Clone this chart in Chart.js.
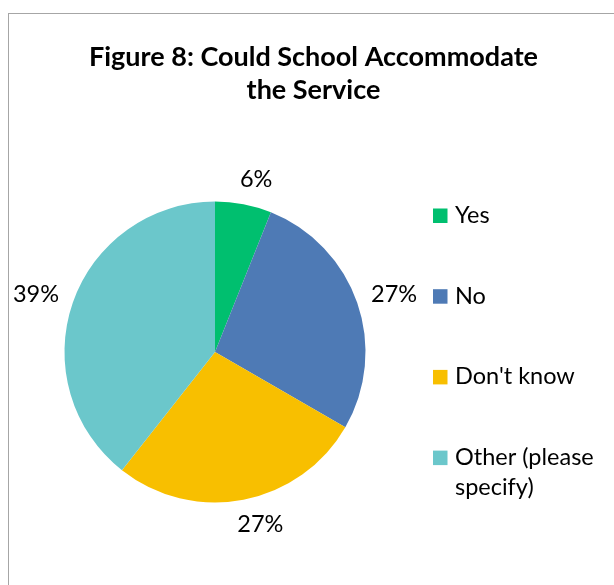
<!DOCTYPE html>
<html>
<head>
<meta charset="utf-8">
<script src="https://cdn.jsdelivr.net/npm/chart.js@4"></script>
<style>
    html, body { margin: 0; padding: 0; background: #fff; overflow: hidden; }
    #frame {
        position: absolute; left: 8px; top: 13px;
        width: 700px; height: 700px;
        border: 1px solid #a6a6a6;
    }
    #wrap { position: absolute; left: 0; top: 0; width: 614px; height: 585px; }
</style>
</head>
<body>
<div id="frame"></div>
<div id="wrap"><canvas id="pieChart"></canvas></div>
<script>
const titleLines = ['Figure 8: Could School Accommodate', 'the Service'];
const categories = ['Yes', 'No', "Don't know", 'Other (please specify)'];
const responses = [2, 9, 9, 13];
const sliceColors = ['#00BF6F', '#4E7AB5', '#F8BF00', '#6BC7CB'];

const FONT = 'Lato, "Open Sans", sans-serif';
const LABEL_SIZE = 23.5;
const TITLE_SIZE = 27;

function percentOf(i) {
    const total = responses.reduce((a, b) => a + b, 0);
    return Math.round(responses[i] / total * 100) + '%';
}

// centred two-line heading above the whole frame (not just the pie area)
const heading = {
    id: 'heading',
    afterDraw(chart) {
        const ctx = chart.ctx;
        ctx.save();
        ctx.font = 'bold ' + TITLE_SIZE + 'px ' + FONT;
        ctx.fillStyle = '#000';
        ctx.textAlign = 'center';
        ctx.textBaseline = 'alphabetic';
        titleLines.forEach((ln, k) => ctx.fillText(ln, 313.5, 66 + k * 32.6));
        ctx.restore();
    }
};

// percentage labels just outside each slice
const outsideLabels = {
    id: 'outsideLabels',
    afterDatasetsDraw(chart) {
        const ctx = chart.ctx;
        const arcs = chart.getDatasetMeta(0).data;
        ctx.save();
        ctx.font = LABEL_SIZE + 'px ' + FONT;
        ctx.fillStyle = '#000';
        ctx.textAlign = 'center';
        ctx.textBaseline = 'middle';
        arcs.forEach((arc, i) => {
            const p = arc.getProps(['x', 'y', 'startAngle', 'endAngle', 'outerRadius'], true);
            const mid = (p.startAngle + p.endAngle) / 2;
            const dx = Math.cos(mid), dy = Math.sin(mid);
            const text = percentOf(i);
            const w = ctx.measureText(text).width;
            const d = p.outerRadius + 15;
            // push the label sideways by up to half its width, less near the top/bottom
            const x = p.x + dx * d + Math.sign(dx) * Math.pow(Math.abs(dx), 0.3) * w / 2;
            const y = p.y + dy * (d + 10);
            ctx.fillText(text, x, y);
        });
        ctx.restore();
    }
};

// legend column on the right, long entries wrap onto a second line
const sideLegend = {
    id: 'sideLegend',
    afterDraw(chart) {
        const ctx = chart.ctx;
        const boxX = 433, box = 14.5, textX = 455;
        const firstTop = 208.5, step = 80.7, lineGap = 30;
        ctx.save();
        ctx.font = LABEL_SIZE + 'px ' + FONT;
        ctx.textBaseline = 'alphabetic';
        ctx.textAlign = 'left';
        const maxW = chart.width - textX - 4;
        chart.data.labels.forEach((label, i) => {
            const top = firstTop + i * step;
            ctx.fillStyle = chart.data.datasets[0].backgroundColor[i];
            ctx.fillRect(boxX, top, box, box);
            const lines = [];
            let cur = '';
            label.split(' ').forEach(word => {
                const test = cur ? cur + ' ' + word : word;
                if (cur && ctx.measureText(test).width > maxW) {
                    lines.push(cur);
                    cur = word;
                } else {
                    cur = test;
                }
            });
            lines.push(cur);
            ctx.fillStyle = '#000';
            lines.forEach((ln, k) => ctx.fillText(ln, textX, top + box + k * lineGap));
        });
        ctx.restore();
    }
};

new Chart(document.getElementById('pieChart'), {
    type: 'pie',
    data: {
        labels: categories,
        datasets: [{
            data: responses,
            backgroundColor: sliceColors,
            borderColor: '#fff',
            borderWidth: 0
        }]
    },
    options: {
        responsive: true,
        maintainAspectRatio: false,
        animation: false,
        layout: {
            padding: { left: 64.5, right: 248.5, top: 201.5, bottom: 82.5 }
        },
        plugins: {
            legend: { display: false },
            tooltip: { enabled: false },
            title: { display: false }
        }
    },
    plugins: [heading, outsideLabels, sideLegend]
});
</script>
</body>
</html>
